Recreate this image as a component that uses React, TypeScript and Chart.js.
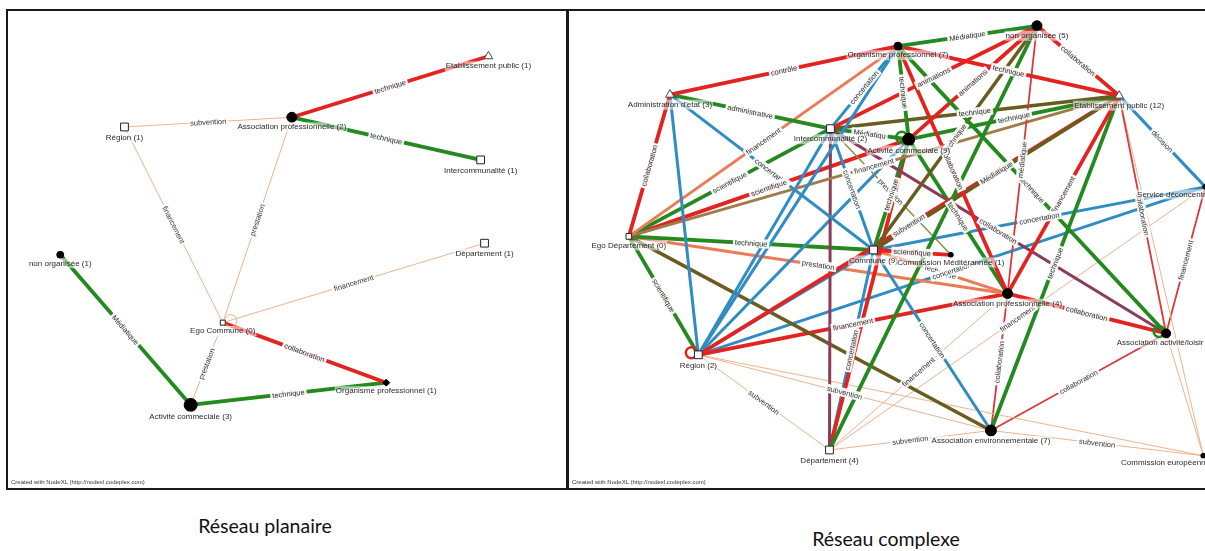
import React, { useEffect, useRef } from "react";
import { Chart, registerables } from "chart.js";
Chart.register(...registerables);

// ---------- DATA: planar network (left) ----------
const leftNames = [
  "Etablissement public (1)",
  "Association professionnelle (2)",
  "Région (1)",
  "Intercommunalité (1)",
  "Département (1)",
  "non organisée (1)",
  "Ego Commune (0)",
  "Organisme professionnel (1)",
  "Activité commeciale (3)",
];
const leftKinds = ["triangle", "circle", "square", "square", "square", "circle", "square", "diamond", "circle"];
// layout coordinates of the graph (NodeXL layout space)
const leftLayoutX = [494, 292, 120, 486, 490, 54, 221, 389, 188];
const leftLayoutY = [50, 113, 123, 157, 243, 255, 325, 387, 410];
const leftSizes = [5, 5, 5.5, 5.5, 5.5, 3.5, 3.5, 3.5, 6.5];
// [from, to, relation family, label]
const leftEdges: [number, number, string, string][] = [
  [1, 0, "red", "technique"],
  [1, 3, "green", "technique"],
  [2, 1, "tan", "subvention"],
  [2, 6, "tan", "financement"],
  [1, 6, "tan", "prestation"],
  [6, 4, "tan", "financement"],
  [6, 7, "red", "collaboration"],
  [5, 8, "green", "Médiatique"],
  [8, 6, "tan", "prestation"],
  [8, 7, "green", "technique"],
];
const leftLoops: [number, string][] = [[6, "tan"]];

// ---------- DATA: complex network (right) ----------
const rightNames = [
  "non organisée (5)",
  "Organisme professionnel (7)",
  "Administration d'etat (3)",
  "Etablissement public (12)",
  "Intercommunalité (2)",
  "Activité commeciale (9)",
  "Service déconcentré (1)",
  "Ego Département (0)",
  "Commune (9)",
  "Commission Méditérannée (1)",
  "Association professionnelle (4)",
  "Association activité/loisir (2)",
  "Région (2)",
  "Association environnementale (7)",
  "Département (4)",
  "Commission européenne (1)",
];
const rightKinds = ["circle", "circle", "triangle", "triangle", "square", "circle", "circle", "square", "square", "circle", "circle", "circle", "square", "circle", "square", "circle"];
const rightLayoutX = [1040, 898, 665, 1124, 829, 909, 1212, 623, 873, 952, 1010, 1172, 694, 993, 828, 1210];
const rightLayoutY = [19, 40, 90, 91, 125, 136, 185, 236, 250, 255, 295, 336, 358, 436, 456, 462];
const rightSizes = [5, 4, 5, 5, 5.5, 6, 2.5, 4, 5.5, 2.5, 5, 4.5, 5.5, 5.5, 5.5, 2.5];
const rightEdges: [number, number, string, string][] = [
  [1, 0, "green", "Médiatique"],
  [1, 2, "red", "contrôle"],
  [2, 4, "green", "administrative"],
  [2, 7, "red", "collaboration"],
  [2, 12, "blue", ""],
  [2, 8, "blue", "concertation"],
  [1, 7, "salmon", "financement"],
  [1, 4, "blue", "concertation"],
  [1, 5, "green", "technique"],
  [1, 10, "red", "collaboration"],
  [1, 11, "green", "technique"],
  [1, 3, "red", "technique"],
  [1, 12, "blue", ""],
  [0, 3, "red", "collaboration"],
  [0, 4, "red", "animations"],
  [0, 5, "red", "animations"],
  [0, 8, "olive", "technique"],
  [0, 10, "redthin", "médiatique"],
  [0, 14, "green", ""],
  [3, 4, "olive", "technique"],
  [3, 5, "green", "technique"],
  [3, 7, "brown", "financement"],
  [3, 8, "olive", "Médiatique"],
  [3, 10, "red", "financement"],
  [3, 13, "green", "technique"],
  [3, 11, "redthin", "collaboration"],
  [3, 6, "blue", "décision"],
  [3, 12, "red", "subvention"],
  [3, 15, "tan", ""],
  [4, 14, "maroon", ""],
  [4, 11, "maroon", "collaboration"],
  [4, 9, "oliveThin", "prestation"],
  [4, 8, "blue", "concertation"],
  [4, 12, "blue", ""],
  [4, 7, "green", "scientifique"],
  [4, 5, "green", "Médiatiqu"],
  [5, 8, "green", "technique"],
  [5, 7, "red", "scientifique"],
  [5, 12, "blue", ""],
  [5, 14, "red", ""],
  [5, 10, "green", "technique"],
  [8, 7, "green", "technique"],
  [8, 12, "blue", ""],
  [8, 14, "blue", "concertation"],
  [8, 13, "blue", "concertation"],
  [8, 9, "red", "scientifique"],
  [8, 6, "blue", "concertation"],
  [8, 10, "salmon", "technique"],
  [7, 10, "salmon", "prestation"],
  [7, 13, "olive", ""],
  [7, 12, "green", "scientifique"],
  [12, 10, "red", "financement"],
  [12, 6, "blue", "concertation"],
  [12, 14, "tan", "subvention"],
  [12, 13, "tan", "subvention"],
  [12, 15, "tan", ""],
  [14, 13, "tan", "subvention"],
  [14, 10, "tan", "financement"],
  [14, 6, "tan", "financement"],
  [13, 15, "tan", "subvention"],
  [13, 11, "redthin", "collaboration"],
  [13, 10, "redthin", "collaboration"],
  [10, 11, "red", "collaboration"],
  [11, 6, "redthin", "financement"],
  [15, 11, "tan", ""],
];
const rightLoops: [number, string][] = [[5, "green"], [12, "red"], [11, "green"]];

// ---------- styles ----------
const EDGE_COLOR: Record<string, string> = {
  red: "#e2231f",
  redthin: "#d83a3a",
  green: "#24891f",
  tan: "#ebb38e",
  blue: "#2f8dc2",
  olive: "#6a5c20",
  oliveThin: "#8d8a4a",
  salmon: "#ec7a55",
  maroon: "#8a3d5a",
  brown: "#a17b4a",
};
const EDGE_WIDTH: Record<string, number> = {
  red: 3.8,
  redthin: 1.8,
  green: 3.8,
  tan: 1,
  blue: 3,
  olive: 3.5,
  oliveThin: 1.5,
  salmon: 3,
  maroon: 3,
  brown: 3,
};
const KIND_STYLE: Record<string, { style: string; bg: string; border: string }> = {
  circle: { style: "circle", bg: "#000", border: "#000" },
  square: { style: "rect", bg: "#fff", border: "#222" },
  triangle: { style: "triangle", bg: "#fff", border: "#444" },
  diamond: { style: "rectRot", bg: "#000", border: "#000" },
};

const FONT = '"Liberation Sans", Arial, sans-serif';

const netPlugin = {
  id: "net",
  afterDatasetDraw(chart: any, args: any) {
    if (args.index !== 1) return;
    const o = chart.options.plugins.net;
    const ctx = chart.ctx as CanvasRenderingContext2D;
    const sx = chart.scales.x;
    const sy = chart.scales.y;
    // self loops
    o.loops.forEach(([i, c]: [number, string]) => {
      const px = sx.getPixelForValue(o.xs[i]);
      const py = sy.getPixelForValue(o.ys[i]);
      ctx.save();
      ctx.strokeStyle = EDGE_COLOR[c];
      ctx.lineWidth = c === "tan" ? 1 : 2.5;
      ctx.beginPath();
      ctx.arc(px + (c === "tan" ? 8 : -7), py - 2, c === "tan" ? 6 : 5.5, 0, Math.PI * 2);
      ctx.stroke();
      ctx.restore();
    });
    // edge labels
    ctx.save();
    ctx.font = "7.5px " + FONT;
    ctx.textAlign = "center";
    ctx.textBaseline = "middle";
    o.edges.forEach(([a, b, , lab]: [number, number, string, string]) => {
      if (!lab) return;
      const x1 = sx.getPixelForValue(o.xs[a]);
      const y1 = sy.getPixelForValue(o.ys[a]);
      const x2 = sx.getPixelForValue(o.xs[b]);
      const y2 = sy.getPixelForValue(o.ys[b]);
      let ang = Math.atan2(y2 - y1, x2 - x1);
      if (ang > Math.PI / 2) ang -= Math.PI;
      if (ang < -Math.PI / 2) ang += Math.PI;
      ctx.save();
      ctx.translate((x1 + x2) / 2, (y1 + y2) / 2);
      ctx.rotate(ang);
      const w = ctx.measureText(lab).width;
      ctx.fillStyle = "rgba(255,255,255,0.92)";
      ctx.fillRect(-w / 2 - 2, -4.5, w + 4, 9);
      ctx.fillStyle = "#333";
      ctx.fillText(lab, 0, 0.5);
      ctx.restore();
    });
    ctx.restore();
  },
  afterDatasetsDraw(chart: any) {
    const o = chart.options.plugins.net;
    const ctx = chart.ctx as CanvasRenderingContext2D;
    const sx = chart.scales.x;
    const sy = chart.scales.y;
    ctx.save();
    ctx.font = "8px " + FONT;
    ctx.textBaseline = "middle";
    ctx.textAlign = "left";
    o.names.forEach((n: string, i: number) => {
      const px = sx.getPixelForValue(o.xs[i]);
      const py = sy.getPixelForValue(o.ys[i]);
      const w = ctx.measureText(n).width;
      let left = px - w / 2;
      if (left + w > o.maxRight) left = o.maxRight - w;
      const ty = py + o.sizes[i] + 5;
      ctx.fillStyle = "rgba(255,255,255,0.55)";
      ctx.fillRect(left - 1, ty - 5, w + 2, 10);
      ctx.fillStyle = "#2a2a2a";
      ctx.fillText(n, left, ty);
    });
    ctx.restore();
  },
};

function makeConfig(
  names: string[],
  kinds: string[],
  xs: number[],
  ys: number[],
  sizes: number[],
  edges: [number, number, string, string][],
  loops: [number, string][],
  bounds: { x0: number; x1: number; y0: number; y1: number },
  maxRight: number
): any {
  const edgeSets = edges.map(([a, b, c]) => ({
    type: "scatter",
    data: [
      { x: xs[a], y: ys[a] },
      { x: xs[b], y: ys[b] },
    ],
    showLine: true,
    borderColor: EDGE_COLOR[c],
    backgroundColor: EDGE_COLOR[c],
    borderWidth: EDGE_WIDTH[c],
    pointRadius: 0,
    tension: 0,
    order: 1,
  }));
  const nodeSet = {
    type: "scatter",
    data: names.map((_, i) => ({ x: xs[i], y: ys[i] })),
    pointStyle: kinds.map((k) => KIND_STYLE[k].style),
    pointRadius: sizes,
    backgroundColor: kinds.map((k) => KIND_STYLE[k].bg),
    borderColor: kinds.map((k) => KIND_STYLE[k].border),
    borderWidth: 1,
    order: 0,
  };
  return {
    type: "scatter",
    data: { datasets: [nodeSet, ...edgeSets] },
    options: {
      animation: false,
      responsive: false,
      events: [],
      layout: { padding: 0 },
      scales: {
        x: { type: "linear", min: bounds.x0, max: bounds.x1, display: false },
        y: { type: "linear", min: bounds.y0, max: bounds.y1, reverse: true, display: false },
      },
      plugins: {
        legend: { display: false },
        tooltip: { enabled: false },
        net: { names, xs, ys, sizes, edges, loops, maxRight },
      },
    },
    plugins: [netPlugin],
  };
}

function NetPanel(props: { left: number; width: number; cfg: () => any }) {
  const ref = useRef<HTMLCanvasElement>(null);
  useEffect(() => {
    const chart = new Chart(ref.current as HTMLCanvasElement, props.cfg());
    return () => chart.destroy();
  }, []);
  return (
    <div
      style={{
        position: "absolute",
        left: props.left,
        top: 9,
        width: props.width,
        height: 481,
        border: "2px solid #1a1a1a",
        boxSizing: "border-box",
        background: "#fff",
        overflow: "hidden",
      }}
    >
      <canvas ref={ref} width={props.width - 4} height={477} style={{ display: "block" }} />
      <div
        style={{
          position: "absolute",
          left: 3,
          bottom: 3,
          fontFamily: FONT,
          fontSize: 6,
          color: "#333",
          whiteSpace: "nowrap",
        }}
      >
        Created with NodeXL (http://nodexl.codeplex.com)
      </div>
    </div>
  );
}

export default function App() {
  return (
    <div
      style={{
        position: "fixed",
        left: 0,
        top: 0,
        width: 1205,
        height: 551,
        overflow: "hidden",
        background: "#fff",
      }}
    >
      <NetPanel
        left={6}
        width={562}
        cfg={() =>
          makeConfig(leftNames, leftKinds, leftLayoutX, leftLayoutY, leftSizes, leftEdges, leftLoops,
            { x0: 8, x1: 566, y0: 11, y1: 488 }, 9999)
        }
      />
      <NetPanel
        left={567}
        width={660}
        cfg={() =>
          makeConfig(rightNames, rightKinds, rightLayoutX, rightLayoutY, rightSizes, rightEdges, rightLoops,
            { x0: 569, x1: 1225, y0: 11, y1: 488 }, 1222 - 569)
        }
      />
      <div
        style={{
          position: "absolute",
          left: 115,
          top: 514,
          width: 300,
          textAlign: "center",
          fontFamily: "Lato, 'Open Sans', sans-serif",
          fontSize: 19.5,
          color: "#111",
        }}
      >
        Réseau planaire
      </div>
      <div
        style={{
          position: "absolute",
          left: 736,
          top: 527,
          width: 300,
          textAlign: "center",
          fontFamily: "Lato, 'Open Sans', sans-serif",
          fontSize: 19.5,
          color: "#111",
        }}
      >
        Réseau complexe
      </div>
    </div>
  );
}
